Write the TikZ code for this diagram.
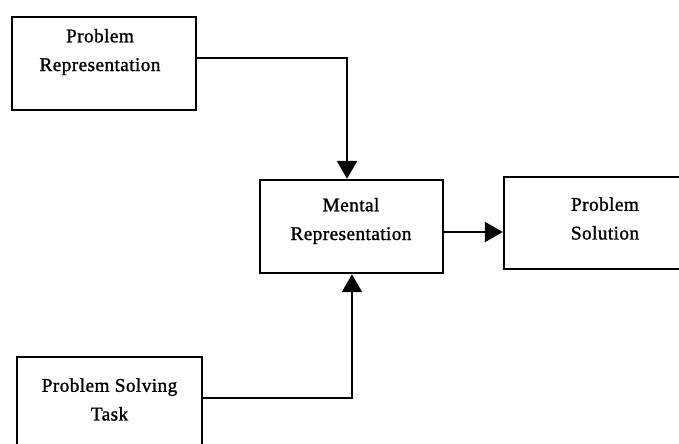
\documentclass[tikz,border=0pt]{standalone}
\usepackage{fontspec}
\setmainfont{Liberation Serif}
\newfontfamily\boxfont[LetterSpace=2,FakeBold=1.2]{Liberation Serif}
\usetikzlibrary{arrows.meta}

\begin{document}
\begin{tikzpicture}[
				x=0.03cm,y=-0.03cm,
				box/.style={draw=black,line width=2.1pt,fill=white,inner sep=0pt,
						minimum width=5.52cm,minimum height=2.79cm},
				lbl/.style={align=center,inner sep=0pt,
						font=\boxfont\fontsize{16.5}{24.5}\selectfont},
				flow/.style={-{Triangle[length=5.4mm,width=6mm]},line width=2.1pt,black}]

				\useasboundingbox (0,0) rectangle (679,443);
				\clip (0,0) rectangle (679,443);
				\fill[white] (0,0) rectangle (679,443);

				% boxes
				\node[box] (pr) at (104,63.5) {};
				\node[box,minimum width=5.49cm] (mr) at (351.5,226.5) {};
				\node[box,minimum width=6.06cm,minimum height=2.76cm] (ps) at (605,223) {};
				\node[box,minimum width=5.55cm] (pst) at (109.5,403.5) {};

				% labels
				\node[lbl] (prt) at (100,52) {Problem\\Representation};
				\node[lbl] (mrt) at (351,221) {Mental\\Representation};
				\node[lbl] (pst2) at (605,218.5) {Problem\\Solution};
				\node[lbl] (pstt) at (109.5,399.5) {Problem Solving\\Task};

				\coordinate (mo) at ([yshift=-4.7pt]mr.east);

				\draw[flow] ([yshift=4.7pt]pr.east) -| ([xshift=-3.8pt]mr.north);
				\draw[flow] ([yshift=4.7pt]pst.east) -| ([xshift=0.4pt]mr.south);
				\draw[flow] (mo) -- (mo -| ps.west);
			\end{tikzpicture}
\end{document}
